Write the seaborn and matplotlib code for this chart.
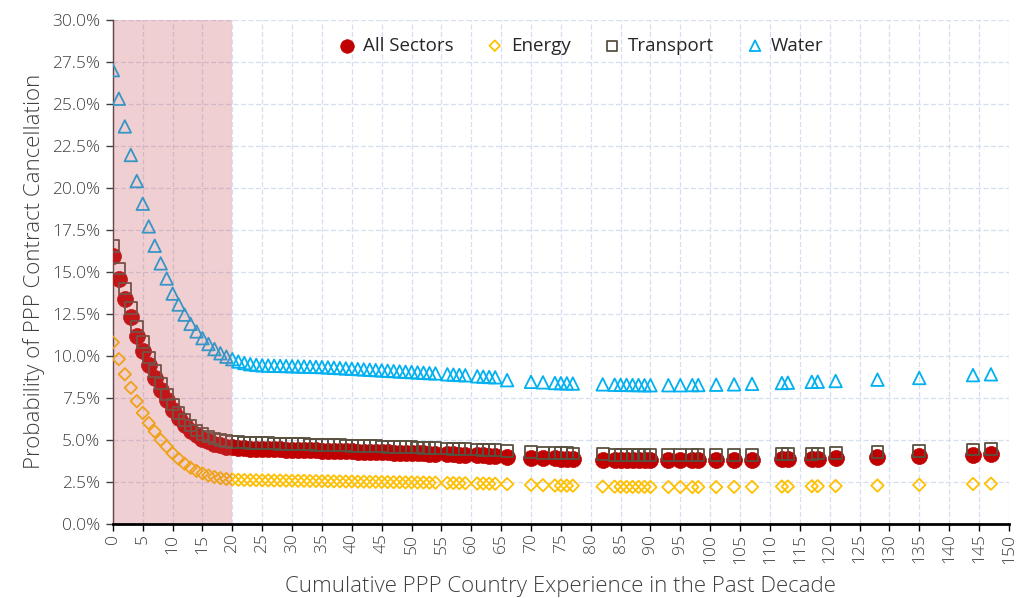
import pandas as pd
import numpy as np
import matplotlib
matplotlib.use("Agg")
import matplotlib.pyplot as plt
from matplotlib.ticker import MultipleLocator, PercentFormatter
import seaborn as sns

# cumulative experience values where the probabilities were evaluated
experience = (list(range(0, 55)) + [56, 57, 58, 59, 61, 62, 63, 64, 66, 70, 72, 74, 75, 76, 77, 82,
              84, 85, 86, 87, 88, 89, 90, 93, 95, 97, 98, 101, 104, 107, 112, 113, 117, 118,
              121, 128, 135, 144, 147])

# probability of cancellation, in percent
all_sectors = [15.95, 14.6, 13.4, 12.3, 11.2, 10.3, 9.45, 8.7, 7.95, 7.35, 6.8, 6.3, 5.9, 5.55, 5.28,
               5.07, 4.92, 4.78, 4.68, 4.6, 4.55,
               4.52, 4.5, 4.48, 4.47, 4.46, 4.45, 4.44, 4.43, 4.42, 4.41,
               4.40, 4.39, 4.38, 4.37, 4.36, 4.35, 4.34, 4.33, 4.32, 4.31,
               4.30, 4.29, 4.28, 4.27, 4.26, 4.25, 4.24, 4.23, 4.22, 4.21,
               4.20, 4.19, 4.18, 4.17,
               4.14, 4.13, 4.12, 4.11, 4.08, 4.07, 4.06, 4.05, 4.0, 3.93, 3.91,
               3.89, 3.88, 3.87, 3.86, 3.81, 3.8, 3.79, 3.79, 3.78, 3.78, 3.78, 3.77,
               3.77, 3.77, 3.77, 3.77, 3.78, 3.79, 3.8, 3.83, 3.84, 3.87, 3.88,
               3.9, 3.96, 4.02, 4.12, 4.15]

energy = [10.8, 9.8, 8.9, 8.1, 7.3, 6.6, 6.0, 5.5, 5.0, 4.6, 4.2, 3.87, 3.58, 3.34, 3.15,
          3.0, 2.88, 2.79, 2.72, 2.67, 2.64,
          2.62, 2.61, 2.6, 2.6, 2.59, 2.59, 2.58, 2.58, 2.57, 2.57,
          2.56, 2.56, 2.55, 2.55, 2.54, 2.54, 2.53, 2.53, 2.52, 2.52,
          2.51, 2.51, 2.50, 2.50, 2.49, 2.49, 2.48, 2.48, 2.47, 2.47,
          2.46, 2.46, 2.45, 2.45,
          2.43, 2.43, 2.42, 2.42, 2.4, 2.4, 2.39, 2.39, 2.36, 2.32, 2.3,
          2.28, 2.28, 2.27, 2.27, 2.22, 2.21, 2.21, 2.2, 2.2, 2.2, 2.2, 2.19,
          2.19, 2.19, 2.19, 2.19, 2.19, 2.2, 2.2, 2.22, 2.22, 2.24, 2.24,
          2.25, 2.28, 2.32, 2.37, 2.39]

transport = [16.55, 15.2, 14.0, 12.85, 11.75, 10.8, 9.9, 9.1, 8.35, 7.7, 7.1, 6.6, 6.2, 5.85, 5.55,
             5.35, 5.2, 5.08, 5.0, 4.93, 4.88,
             4.86, 4.84, 4.82, 4.81, 4.8, 4.79, 4.78, 4.77, 4.76, 4.75,
             4.74, 4.73, 4.72, 4.71, 4.70, 4.69, 4.68, 4.67, 4.66, 4.65,
             4.64, 4.63, 4.62, 4.61, 4.60, 4.59, 4.58, 4.57, 4.56, 4.55,
             4.54, 4.53, 4.52, 4.51,
             4.48, 4.47, 4.46, 4.45, 4.42, 4.41, 4.40, 4.39, 4.34, 4.27, 4.24,
             4.22, 4.21, 4.2, 4.19, 4.14, 4.12, 4.11, 4.11, 4.1, 4.1, 4.1, 4.09,
             4.08, 4.08, 4.08, 4.08, 4.09, 4.1, 4.11, 4.14, 4.15, 4.18, 4.19,
             4.21, 4.27, 4.33, 4.43, 4.46]

water = [27.0, 25.3, 23.65, 21.95, 20.4, 19.05, 17.7, 16.55, 15.5, 14.6, 13.7, 13.05, 12.45, 11.9, 11.45,
         11.05, 10.7, 10.4, 10.15, 9.95, 9.8,
         9.66, 9.57, 9.50, 9.46, 9.43, 9.42, 9.41, 9.40, 9.39, 9.38,
         9.37, 9.36, 9.35, 9.34, 9.33, 9.31, 9.29, 9.27, 9.25, 9.23,
         9.21, 9.19, 9.17, 9.15, 9.13, 9.11, 9.09, 9.07, 9.05, 9.03,
         9.01, 8.99, 8.97, 8.95,
         8.9, 8.88, 8.86, 8.84, 8.78, 8.76, 8.74, 8.72, 8.55, 8.45, 8.42,
         8.38, 8.37, 8.36, 8.35, 8.3, 8.28, 8.27, 8.27, 8.26, 8.26, 8.25, 8.25,
         8.25, 8.25, 8.26, 8.26, 8.28, 8.3, 8.33, 8.38, 8.4, 8.45, 8.46,
         8.5, 8.58, 8.68, 8.85, 8.9]

df = pd.DataFrame({"experience": experience, "All Sectors": all_sectors, "Energy": energy,
                   "Transport": transport, "Water": water})

sns.set_style("white")
plt.rcParams["font.family"] = ["Open Sans", "DejaVu Sans"]

fig = plt.figure(figsize=(10.17, 5.98), dpi=100)
ax = fig.add_axes([0.111, 0.124, 0.881, 0.843])

# series: name, marker, size, color, filled
series = [("All Sectors", "o", 11.5, "#C00000", True),
          ("Energy", "D", 6.3, "#FFC000", False),
          ("Transport", "s", 8.5, "#595040", False),
          ("Water", "^", 9.0, "#00B0F0", False)]

for name, marker, ms, color, filled in series:
    if filled:
        sns.scatterplot(data=df, x="experience", y=name, marker=marker, s=ms ** 2,
                        color=color, edgecolor=color, linewidth=0.5, ax=ax, label=name, zorder=3)
    else:
        sns.scatterplot(data=df, x="experience", y=name, marker=marker, s=ms ** 2,
                        facecolor="none", edgecolor=color, linewidth=1.3, ax=ax, label=name, zorder=3)

# shaded early-experience region drawn on top of the markers
ax.axvspan(0, 20, color="#C8545A", alpha=0.28, lw=0, zorder=4)

ax.set_xlim(0, 150)
ax.set_ylim(0, 30)
ax.xaxis.set_major_locator(MultipleLocator(5))
ax.yaxis.set_major_locator(MultipleLocator(2.5))
ax.yaxis.set_major_formatter(PercentFormatter(100, decimals=1))
ax.grid(True, color="#D5DFF0", linestyle=(0, (4, 2)), linewidth=0.9)
ax.set_axisbelow(True)

for side in ["top", "right"]:
    ax.spines[side].set_visible(False)
ax.spines["bottom"].set_color("black")
ax.spines["bottom"].set_linewidth(2)
ax.spines["bottom"].set_zorder(5)
ax.spines["left"].set_color("#404040")
ax.spines["left"].set_linewidth(1)

ax.tick_params(axis="x", direction="out", length=5, width=1, color="black", labelsize=12.5,
               labelcolor="#404040", rotation=90, bottom=True, pad=2)
ax.tick_params(axis="y", direction="out", length=5, width=1, color="#404040", labelsize=12.5,
               labelcolor="#404040", left=True, pad=4)
for lab in ax.get_xticklabels() + ax.get_yticklabels():
    lab.set_fontweight("light")

ax.set_xlabel("Cumulative PPP Country Experience in the Past Decade", fontsize=16,
              color="#404040", fontweight="light", labelpad=9)
ax.set_ylabel("Probability of PPP Contract Cancellation", fontsize=16,
              color="#404040", fontweight="light", labelpad=5)

leg = ax.legend(loc="upper center", bbox_to_anchor=(0.522, 1.0), ncol=4, frameon=False,
                fontsize=13.5, handlelength=1.0, handletextpad=0.35, columnspacing=1.7,
                markerscale=0.85)
for t in leg.get_texts():
    t.set_color("#262626")
leg.set_zorder(6)

fig.savefig("out.png", dpi=100)
